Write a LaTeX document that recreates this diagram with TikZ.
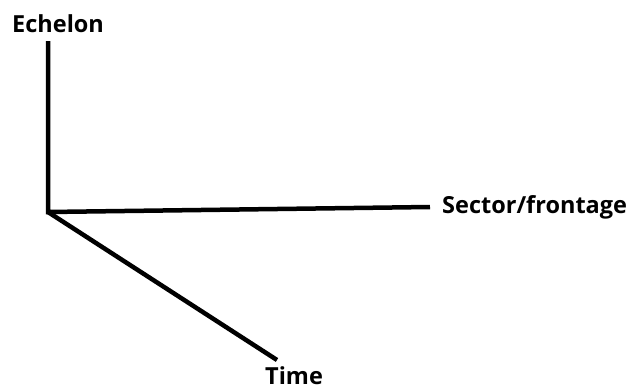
\documentclass[tikz,border=0pt]{standalone}
\usepackage{fontspec}
\setmainfont{Open Sans}
\usetikzlibrary{positioning}

\begin{document}
\begin{tikzpicture}[
      x=1pt, y=-1pt,
      axis/.style={line width=4.5pt, black},
      lbl/.style={font=\fontsize{23.5}{26}\selectfont\bfseries, inner sep=0pt}
    ]
      \useasboundingbox (0,0) rectangle (633,389);
      % Axes meet at the origin
      \coordinate (origin) at (48,212);
      \coordinate (echelonEnd) at (48,41);
      \coordinate (sectorEnd) at (430,207);
      \coordinate (timeEnd) at (277,360);

      \draw[axis, line cap=butt] (echelonEnd) -- (origin) -- (sectorEnd);
      \draw[axis] (origin) -- (timeEnd);

      % Labels
      \node[lbl, anchor=base west] (echelon) at (12,32) {Echelon};
      \node[lbl, anchor=base west] (sector) at (442,213) {Sector/frontage};
      \node[lbl, anchor=base west, text depth=0pt] (time) at (265,384) {Time};
    \end{tikzpicture}
\end{document}
